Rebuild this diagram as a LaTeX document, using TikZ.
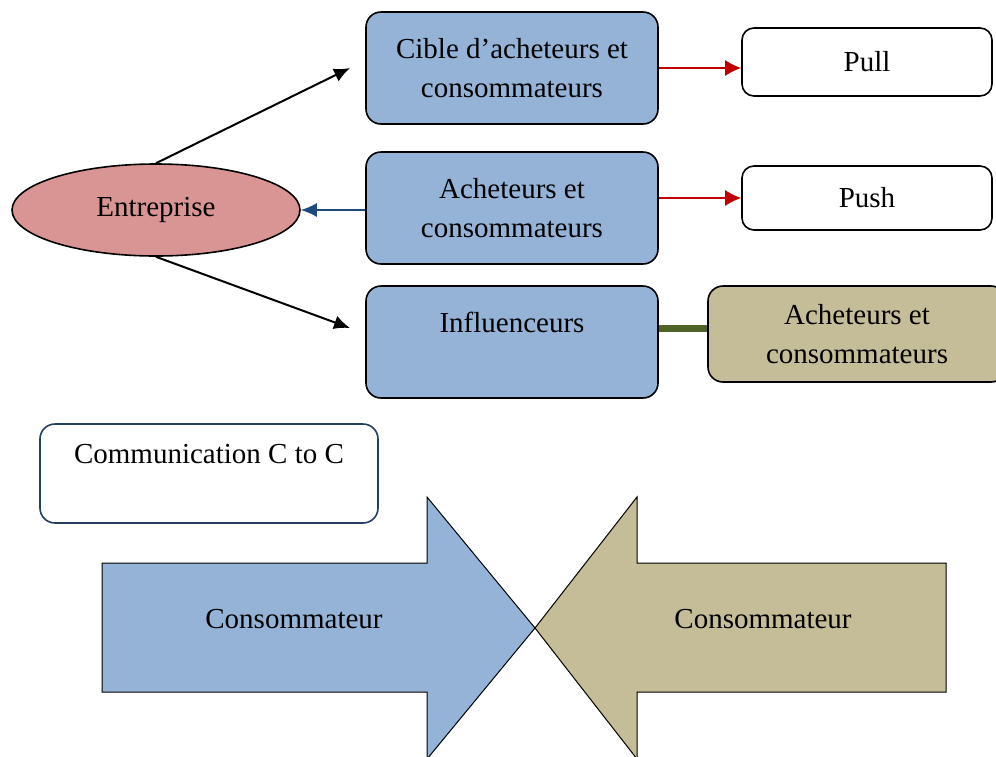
\documentclass[tikz,border=0pt]{standalone}
\usepackage{fontspec}
\setmainfont{Liberation Serif}
\usetikzlibrary{arrows.meta,shapes.geometric}
\definecolor{boxblue}{HTML}{95B3D7}
\definecolor{boxtan}{HTML}{C4BD97}
\definecolor{boxpink}{HTML}{D99594}
\definecolor{linkgreen}{HTML}{4F6228}
\definecolor{linkred}{HTML}{C00000}
\definecolor{linkblue}{HTML}{1F497D}
\definecolor{edgeblue}{HTML}{243F60}
\tikzset{
  roundbox/.style = 	{shape=rectangle, rounded corners=7.5pt,
				draw, line width=0.8pt, align=center},
  bluebox/.style = 	{roundbox, fill=boxblue, minimum width=146pt, minimum height=56pt},
  whitebox/.style = 	{roundbox, fill=white, rounded corners=6pt},
  tanbox/.style = 	{roundbox, fill=boxtan, minimum width=149pt, minimum height=48pt},
  company/.style = 	{shape=ellipse, draw, line width=0.8pt, fill=boxpink,
				minimum width=144pt, minimum height=46pt, inner sep=0pt},
  bigarrow/.style = 	{draw, line width=0.5pt},
}
\begin{document}
\begin{tikzpicture}
	[
		x                       = 0.5pt,
		y                       = -0.5pt,
		every node/.style       = {font=\fontsize{14.5}{19.5}\selectfont},
		blackarrow/.style       = {draw, line width=1pt, -{Latex[length=8pt,width=7pt]}},
		redarrow/.style         = {draw=linkred, line width=0.8pt, -{Latex[length=8pt,width=8pt]}},
		bluearrow/.style        = {draw=linkblue, line width=0.8pt, -{Latex[length=8pt,width=7pt]}}
	]
	\useasboundingbox (0,0) rectangle (996,756);
	\clip (0,0) rectangle (996,756);

	% left column
	\node [company] (entreprise) at (156,210) {Entreprise};

	% middle column
	\node [bluebox] (cible) at (512,68) {Cible d’acheteurs et\\consommateurs};
	\node [bluebox] (acheteurs) at (512,208) {Acheteurs et\\consommateurs};
	\node [bluebox] (influenceurs) at (512,342) {Influenceurs\\ \mbox{}};

	% right column
	\node [whitebox, minimum width=125pt, minimum height=34pt] (pull) at (867,62) {Pull};
	\node [whitebox, minimum width=125pt, minimum height=32pt] (push) at (867,198) {Push};
	\node [tanbox] (cibletan) at (857,334) {Acheteurs et\\consommateurs};

	\coordinate (up) at (350,68);
	\coordinate (down) at (350,328);

	\draw [blackarrow] (entreprise.north) -- (up);
	\draw [blackarrow] (entreprise.south) -- (down);
	\draw [bluearrow] (acheteurs.west |- entreprise.east) -- (entreprise.east);
	\draw [redarrow] (cible.east) -- (cible.east -| pull.west);
	\draw [redarrow] (push.west -| acheteurs.east) -- (push.west);
	\draw [draw=linkgreen, line width=3.5pt]
		([yshift=3pt]cibletan.west -| influenceurs.east) -- ([yshift=3pt]cibletan.west);

	% C to C
	\node [roundbox, draw=edgeblue, minimum width=169pt, minimum height=49.5pt]
		(ctoc) at (209,473.5) {Communication C to C\\ \mbox{}};

	\draw [bigarrow, fill=boxblue] (102,563) -- (427,563) -- (427,497) -- (535,628)
		-- (427,759) -- (427,692) -- (102,692) -- cycle;
	\draw [bigarrow, fill=boxtan] (946,563) -- (637,563) -- (637,497) -- (535,628)
		-- (637,759) -- (637,692) -- (946,692) -- cycle;
	\node (consoa) at (294,619) {Consommateur};
	\node (consob) at (763,619) {Consommateur};
\end{tikzpicture}
\end{document}
